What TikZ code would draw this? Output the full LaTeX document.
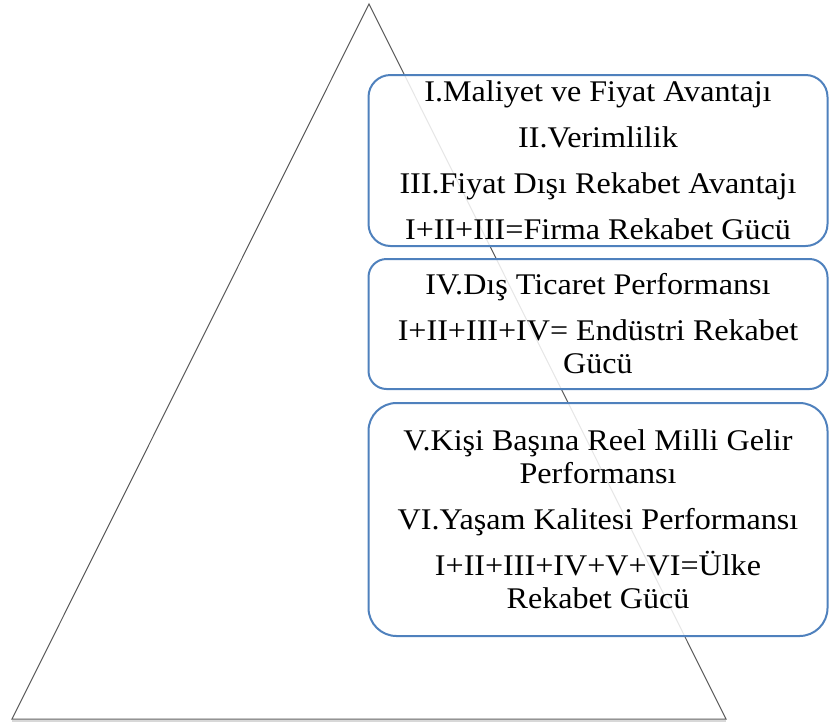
\documentclass[tikz,border=0pt]{standalone}
\usepackage{fontspec}
\setmainfont{Liberation Serif}[FakeStretch=1.07]
\definecolor{boxblue}{HTML}{4F81BD}
\definecolor{trigray}{HTML}{595959}
\begin{document}
\begin{tikzpicture}[x=1pt,y=-1pt,
  tri/.style={draw=trigray,line width=1pt,line join=miter},
  infobox/.style={draw=boxblue,line width=2pt,fill=white,fill opacity=0.85,text opacity=1,
    rectangle,inner sep=0pt,minimum width=459pt,align=center,
    font=\fontsize{30}{33}\selectfont}]
\useasboundingbox (0,0) rectangle (829,726);
\coordinate (A) at (369,4);
\coordinate (B) at (12,719);
\coordinate (C) at (726,719);
% shadow of the triangle base
\draw[gray!60,line width=2.5pt,opacity=0.5] ([yshift=-2pt]B) -- ([yshift=-2pt]C);
\draw[tri] (A) -- (B) -- (C) -- cycle;
\node[infobox,rounded corners=22pt,minimum height=171pt] (b1) at (598,160.5)
  {I.Maliyet ve Fiyat Avantajı\\[13pt]
   II.Verimlilik\\[13pt]
   III.Fiyat Dışı Rekabet Avantajı\\[13pt]
   I+II+III=Firma Rekabet Gücü};
\node[infobox,rounded corners=18pt,minimum height=130pt] (b2) at (598,324)
  {IV.Dış Ticaret Performansı\\[13pt]
   I+II+III+IV= Endüstri Rekabet\\
   Gücü};
\node[infobox,rounded corners=28pt,minimum height=233pt] (b3) at (598,519.5)
  {V.Kişi Başına Reel Milli Gelir\\
   Performansı\\[13pt]
   VI.Yaşam Kalitesi Performansı\\[13pt]
   I+II+III+IV+V+VI=Ülke\\
   Rekabet Gücü};
\end{tikzpicture}
\end{document}
